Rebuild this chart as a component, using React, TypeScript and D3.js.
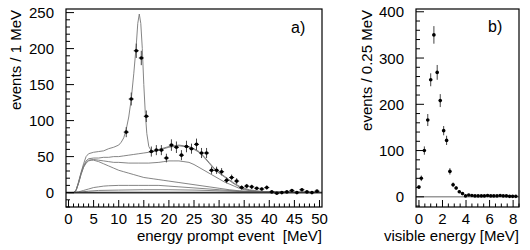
import React from "react";
import * as d3 from "d3";

// panel a) simulated spectra, [energy MeV, events / 1 MeV]
const curveTotal: [number, number][] = [
  [0, 0], [1, 0], [1.5, 3], [2, 15], [2.5, 28], [3, 40], [3.5, 50], [4, 54], [5, 56], [6, 57],
  [7, 58], [8, 61], [9, 63], [10, 66], [10.5, 70], [11, 76], [11.5, 88], [12, 105], [12.5, 130],
  [13, 165], [13.5, 205], [13.8, 235], [14.1, 248], [14.4, 235], [14.7, 200], [15, 150],
  [15.3, 110], [15.6, 82], [16, 64], [16.5, 58], [17, 58], [18, 60], [19, 62], [20, 64],
  [21, 65], [22, 66], [23, 65], [24, 64], [25, 61], [26, 57], [27, 50], [28, 42], [29, 34],
  [30, 28], [31, 23], [32, 18], [33, 13], [34, 9], [35, 6], [36, 4], [37, 3], [38, 2],
  [39, 1.5], [40, 1], [42, 0.7], [45, 0.5], [50, 0.3],
];
const curveB: [number, number][] = [
  [0, 0], [1, 0], [1.5, 3], [2, 14], [2.5, 27], [3, 37], [3.5, 44], [4, 47], [5, 48], [6, 48],
  [7, 49], [8, 49], [9, 50], [10, 50], [11, 51], [12, 52], [13, 53], [14, 54], [15, 55],
  [16, 56], [17, 57], [18, 59], [19, 61], [20, 63], [21, 64], [22, 65], [23, 64], [24, 63],
  [25, 60], [26, 56], [27, 49], [28, 41], [29, 33], [30, 27], [31, 22], [32, 17], [33, 12],
  [34, 8], [35, 5], [36, 3], [37, 2], [38, 1.5], [39, 1], [40, 0.7], [45, 0.4], [50, 0.2],
];
const curveC: [number, number][] = [
  [0, 0], [1, 0], [1.5, 3], [2, 13], [2.5, 26], [3, 36], [3.5, 42], [4, 45], [5, 46], [6, 45],
  [7, 44], [8, 43], [9, 42], [10, 42], [12, 41], [14, 41], [16, 41], [18, 42], [19, 43],
  [20, 44], [21, 44], [22, 44], [23, 43], [24, 42], [25, 39], [26, 35], [27, 31], [28, 27],
  [29, 23], [30, 19], [31, 15], [32, 12], [33, 9], [34, 6], [35, 4], [36, 3], [37, 2], [38, 1],
  [40, 0.6], [45, 0.3], [50, 0.2],
];
const curveD: [number, number][] = [
  [0, 0], [1, 0], [1.5, 3], [2, 13], [2.5, 25], [3, 35], [3.5, 41], [4, 44], [4.5, 45], [5, 45],
  [6, 43], [7, 40], [8, 37], [9, 34], [10, 31], [11, 29], [12, 27], [13, 25], [14, 23], [15, 21],
  [16, 20], [17, 19], [18, 18], [19, 17], [20, 16], [22, 14], [24, 12], [26, 10], [28, 8],
  [30, 6], [32, 4], [34, 2.5], [36, 1.5], [38, 1], [40, 0.6], [45, 0.3], [50, 0.2],
];
const curveF: [number, number][] = [
  [0, 0], [1, 0], [2, 1], [3, 3], [4, 5], [5, 7], [6, 8], [7, 9], [8, 9.5], [10, 10], [12, 10],
  [14, 10], [16, 10], [18, 10], [20, 9], [22, 8], [24, 7], [26, 6], [28, 5], [30, 4], [32, 3],
  [34, 2], [36, 1.5], [38, 1], [40, 0.6], [45, 0.3], [50, 0.2],
];
const curveE: [number, number][] = [
  [0, 0], [2, 0.5], [4, 2], [6, 3], [10, 3.5], [15, 4], [20, 4], [25, 3.5], [30, 2.5],
  [35, 1.5], [40, 0.8], [45, 0.4], [50, 0.2],
];
const curvesA = [curveTotal, curveB, curveC, curveD, curveF, curveE];

// panel a) measured prompt events
const promptE = [11.5, 12.5, 13.5, 14.5, 15.5, 16.5, 17.5, 18.5, 19.5, 20.5, 21.5, 22.5, 23.5,
  24.5, 25.5, 26.5, 27.5, 28.5, 29.5, 30.5, 31.5, 32.5, 33.5, 34.5, 35.5, 36.5, 37.5, 38.5,
  39.5, 40.5, 41.5, 42.5, 43.5, 44.5, 45.5, 46.5, 47.5, 48.5, 49.5];
const promptN = [84, 130, 197, 187, 106, 57, 59, 59, 48, 66, 63, 52, 64, 61, 67, 55, 55, 31,
  31, 29, 17, 21, 16, 7, 9, 8, 6, 5, 7, 1, -1, 0, 1, 3, 0, 4, 1, 0, 2];
const promptErr = [7, 9, 10, 10, 8, 7, 7, 7, 6, 8, 8, 7, 8, 7, 8, 7, 7, 5, 5, 5, 4, 4, 4, 3,
  3, 3, 2, 2, 3, 1, 1, 1, 1, 2, 1, 2, 1, 1, 1.5];

// panel b) visible energy
const visE = [0.0, 0.2, 0.46, 0.75, 1.0, 1.27, 1.55, 1.81, 2.1, 2.35, 2.63, 2.9, 3.16, 3.43,
  3.7, 3.96, 4.23, 4.5, 4.76, 5.03, 5.3, 5.56, 5.83, 6.1, 6.36, 6.63, 6.9, 7.16, 7.43, 7.7,
  7.96, 8.23];
const visN = [21, 40, 100, 166, 253, 350, 269, 208, 143, 122, 55, 26, 19, 11, 7, 2, 4, 3, 2,
  2, 2, 2, 3, 2, 2, 2, 3, 2, 2, 1, 1, 1];
const visErr = [4, 6, 9, 13, 14, 19, 16, 14, 10, 10, 7, 5, 4, 3, 2, 1.5, 1.5, 1.5, 1, 1, 1, 1,
  1, 1, 1, 1, 1, 1, 1, 1, 1, 1];

const aTicksX = [0, 5, 10, 15, 20, 25, 30, 35, 40, 45, 50];
const aTicksY = [0, 50, 100, 150, 200, 250];
const bTicksX = [0, 2, 4, 6, 8];
const bTicksY = [0, 100, 200, 300, 400];

const FONT = "Liberation Sans, Arial, Helvetica, sans-serif";

type PanelProps = {
  x: d3.ScaleLinear<number, number>;
  y: d3.ScaleLinear<number, number>;
  xMajor: number[];
  yMajor: number[];
  xMinorStep: number;
  yMinorStep: number;
  xTitle: string;
  yTitle: string;
  yTitleX: number;
  tag: string;
  tagX: number;
  tagY: number;
  zeroColor: string;
};

function Frame(p: PanelProps) {
  const [x0, x1] = p.x.range();
  const [y0, y1] = p.y.range(); // y0 = bottom, y1 = top
  const xd = p.x.domain();
  const yd = p.y.domain();
  const xMinor = d3.range(Math.ceil(xd[0] / p.xMinorStep) * p.xMinorStep, xd[1] + 1e-9, p.xMinorStep);
  const yMinor = d3.range(Math.ceil(yd[0] / p.yMinorStep) * p.yMinorStep, yd[1] + 1e-9, p.yMinorStep);
  const isMajor = (v: number, list: number[]) => list.some((m) => Math.abs(m - v) < 1e-6);
  return (
    <g fontFamily={FONT} fill="#000">
      <line x1={x0} x2={x1} y1={p.y(0)} y2={p.y(0)} stroke={p.zeroColor} strokeWidth={1.6} />
      {xMinor.map((v) => (
        <line key={"xt" + v} x1={p.x(v)} x2={p.x(v)} y1={y0}
          y2={y0 - (isMajor(v, p.xMajor) ? 7 : 3.5)} stroke="#000" strokeWidth={1} />
      ))}
      {yMinor.map((v) => (
        <line key={"yt" + v} x1={x0} x2={x0 + (isMajor(v, p.yMajor) ? 8 : 4)} y1={p.y(v)}
          y2={p.y(v)} stroke="#000" strokeWidth={1} />
      ))}
      <rect x={x0} y={y1} width={x1 - x0} height={y0 - y1} fill="none" stroke="#000" strokeWidth={1.2} />
      {p.xMajor.map((v) => (
        <text key={"xl" + v} x={p.x(v)} y={224} fontSize={15} textAnchor="middle">{v}</text>
      ))}
      {p.yMajor.map((v) => (
        <text key={"yl" + v} x={x0 - 12} y={p.y(v) + 5.5} fontSize={15} textAnchor="end">{v}</text>
      ))}
      <text x={x1} y={241} fontSize={15} textAnchor="end" style={{ whiteSpace: "pre" }}>{p.xTitle}</text>
      <text transform={`translate(${p.yTitleX},${y1 + 1}) rotate(-90)`} fontSize={15}
        textAnchor="end">{p.yTitle}</text>
      <text x={p.tagX} y={p.tagY} fontSize={16}>{p.tag}</text>
    </g>
  );
}

function Points({ x, y, e, n, err, halfW }: {
  x: d3.ScaleLinear<number, number>; y: d3.ScaleLinear<number, number>;
  e: number[]; n: number[]; err: number[]; halfW: number;
}) {
  return (
    <g>
      {e.map((v, i) => (
        <g key={i}>
          <line x1={x(v)} x2={x(v)} y1={y(n[i] - err[i])} y2={y(n[i] + err[i])} stroke="#444" strokeWidth={1} />
          <line x1={x(v - halfW)} x2={x(v + halfW)} y1={y(n[i])} y2={y(n[i])} stroke="#222" strokeWidth={1} />
          <circle cx={x(v)} cy={y(n[i])} r={1.8} fill="#000" />
        </g>
      ))}
    </g>
  );
}

export default function App() {
  const xa = d3.scaleLinear().domain([-0.5, 50.5]).range([66, 322]);
  const ya = d3.scaleLinear().domain([-20, 255]).range([207, 9]);
  const xb = d3.scaleLinear().domain([-0.25, 8.5]).range([416, 519]);
  const yb = d3.scaleLinear().domain([-22, 406]).range([207, 9]);

  const lineA = d3.line<[number, number]>().x((d) => xa(d[0])).y((d) => ya(d[1]));

  return (
    <svg width={530} height={250} style={{ position: "absolute", left: 0, top: 0, background: "#fff" }}>
      <rect width={530} height={250} fill="#fff" />
      {curvesA.map((c, i) => (
        <path key={i} d={lineA(c) || ""} fill="none" stroke="#777" strokeWidth={0.9} />
      ))}
      <Frame x={xa} y={ya} xMajor={aTicksX} yMajor={aTicksY} xMinorStep={1} yMinorStep={10}
        xTitle="energy prompt event  [MeV]" yTitle="events / 1 MeV" yTitleX={21}
        tag="a)" tagX={291} tagY={33} zeroColor="#333" />
      <Points x={xa} y={ya} e={promptE} n={promptN} err={promptErr} halfW={0.5} />

      <Frame x={xb} y={yb} xMajor={bTicksX} yMajor={bTicksY} xMinorStep={0.5} yMinorStep={20}
        xTitle="visible energy [MeV]" yTitle="events / 0.25 MeV" yTitleX={372}
        tag="b)" tagX={488} tagY={32} zeroColor="#999" />
      <Points x={xb} y={yb} e={visE} n={visN} err={visErr} halfW={0.12} />
    </svg>
  );
}
